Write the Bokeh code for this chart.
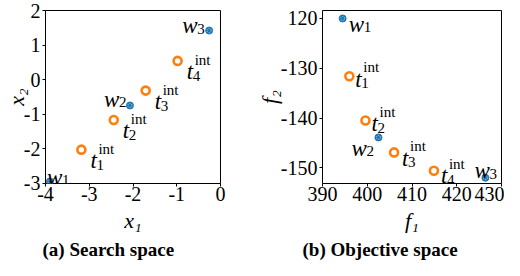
from bokeh.plotting import figure
from bokeh.models import ColumnDataSource, Range1d, FixedTicker, Title
from bokeh.layouts import row
from bokeh.core.properties import value
from bokeh.embed import file_html
from bokeh.resources import INLINE

# ---------------- data ----------------
# (a) search space
x1_w = [-3.90, -2.07, -0.26]
x2_w = [-2.95, -0.75, 1.42]
x1_t = [-3.18, -2.44, -1.71, -0.98]
x2_t = [-2.03, -1.17, -0.32, 0.54]
# (b) objective space
f1_w = [394.5, 402.5, 426.4]
f2_w = [-120.0, -143.9, -152.0]
f1_t = [396.0, 399.6, 406.0, 414.9]
f2_t = [-131.6, -140.5, -146.9, -150.6]

w_subs = ["1", "2", "3"]
t_subs = ["1", "2", "3", "4"]
t_sup = "int"

xa_ticks = [-4, -3, -2, -1, 0]
xa_labels = ["-4", "-3", "-2", "-1", "0"]
ya_ticks = [-3, -2, -1, 0, 1, 2]
ya_labels = ["-3", "-2", "-1", "0", "1", "2"]
xb_ticks = [390, 400, 410, 420, 430]
xb_labels = ["390", "400", "410", "420", "430"]
yb_ticks = [-150, -140, -130, -120]
yb_labels = ["-150", "-140", "-130", "120"]

# ---------------- styling ----------------
SERIF = "Liberation Serif"
BLUE = "#1f77b4"
ORANGE = "#ff7f0e"
TICK_FS = "20px"
LBL_FS = "23px"
SUB_FS = "15px"

# label offsets (screen px) for the main letter of each label
wa_dx = [-3, -26, -27]
wa_dy = [-4, -6, -5]
ta_dx = [9, 9, 9, 9]
ta_dy = [11, 11, 11, 11]
wb_dx = [6, -27, -11]
wb_dy = [6, 11, -7]
tb_dx = [6, 6, 8, 7]
tb_dy = [3, 3, 6, 5]

W_ADV = 15   # advance of italic w
T_ADV = 7    # advance of italic t


def style(p, xt, xl, yt, yl, xlab, ylab, ylab_standoff):
    p.xaxis.ticker = FixedTicker(ticks=xt)
    p.yaxis.ticker = FixedTicker(ticks=yt)
    p.xaxis.major_label_overrides = dict(zip(xt, xl))
    p.yaxis.major_label_overrides = dict(zip(yt, yl))
    p.xgrid.visible = False
    p.ygrid.visible = False
    p.outline_line_color = "black"
    p.outline_line_width = 1
    p.outline_line_alpha = 1
    for ax in (p.xaxis, p.yaxis):
        ax.axis_line_color = None
        ax.major_tick_in = 0
        ax.major_tick_out = 3
        ax.major_tick_line_color = "black"
        ax.minor_tick_line_color = None
        ax.major_label_text_font = SERIF
        ax.major_label_text_font_size = TICK_FS
        ax.major_label_text_color = "black"
        ax.axis_label_text_font = SERIF
        ax.axis_label_text_font_style = "italic"
        ax.axis_label_text_font_size = "22px"
        ax.axis_label_text_color = "black"
    p.xaxis.major_label_standoff = 0
    p.yaxis.major_label_standoff = 2
    p.xaxis.axis_label_standoff = 4
    p.yaxis.axis_label_standoff = ylab_standoff
    p.xaxis.axis_label = xlab
    p.yaxis.axis_label = ylab


def points(p, xw, yw, xt, yt):
    p.scatter(xw, yw, size=7, fill_color=BLUE, line_color=BLUE, line_width=1)
    p.scatter(xw, yw, size=4, fill_color=None, line_color="#a9cbe6", line_width=1, line_dash="1 1")
    p.scatter(xt, yt, size=8, fill_color="white", line_color=ORANGE, line_width=2.6)


def labels(p, xw, yw, wdx, wdy, xt, yt, tdx, tdy):
    sw = ColumnDataSource(dict(x=xw, y=yw, t=["w"] * len(xw), s=w_subs,
                               dx=wdx, dy=wdy,
                               sdx=[d + W_ADV for d in wdx], sdy=[d + 3 for d in wdy]))
    p.text("x", "y", text="t", x_offset="dx", y_offset="dy", source=sw,
           text_font=value(SERIF), text_font_style="italic", text_font_size=LBL_FS,
           text_baseline="alphabetic", text_color="black")
    p.text("x", "y", text="s", x_offset="sdx", y_offset="sdy", source=sw,
           text_font=value(SERIF), text_font_size=SUB_FS,
           text_baseline="alphabetic", text_color="black")
    st = ColumnDataSource(dict(x=xt, y=yt, t=["t"] * len(xt), s=t_subs, u=[t_sup] * len(xt),
                               dx=tdx, dy=tdy,
                               sdx=[d + T_ADV - 1 for d in tdx], sdy=[d + 4 for d in tdy],
                               udx=[d + T_ADV + 1 for d in tdx], udy=[d - 12 for d in tdy]))
    p.text("x", "y", text="t", x_offset="dx", y_offset="dy", source=st,
           text_font=value(SERIF), text_font_style="italic", text_font_size=LBL_FS,
           text_baseline="alphabetic", text_color="black")
    p.text("x", "y", text="s", x_offset="sdx", y_offset="sdy", source=st,
           text_font=value(SERIF), text_font_size=SUB_FS,
           text_baseline="alphabetic", text_color="black")
    p.text("x", "y", text="u", x_offset="udx", y_offset="udy", source=st,
           text_font=value(SERIF), text_font_size=SUB_FS,
           text_baseline="alphabetic", text_color="black")


def caption(p, text, off, standoff):
    t = Title(text=text, align="left", offset=off, text_font=SERIF, text_font_style="bold",
              text_font_size="19px", text_color="black", standoff=standoff)
    p.add_layout(t, "below")


# ---------------- (a) ----------------
pa = figure(width=252, height=260, output_backend="svg", toolbar_location=None,
            x_range=Range1d(-4, 0), y_range=Range1d(-3.01, 2.0),
            min_border_left=45, min_border_right=32, min_border_top=10, min_border_bottom=77)
style(pa, xa_ticks, xa_labels, ya_ticks, ya_labels, "x₁", "x₂", -8)
points(pa, x1_w, x2_w, x1_t, x2_t)
labels(pa, x1_w, x2_w, wa_dx, wa_dy, x1_t, x2_t, ta_dx, ta_dy)
caption(pa, "(a) Search space", -3, 2)

# ---------------- (b) ----------------
pb = figure(width=252, height=260, output_backend="svg", toolbar_location=None,
            x_range=Range1d(390, 430), y_range=Range1d(-153.15, -118.4),
            min_border_left=70, min_border_right=3, min_border_top=6, min_border_bottom=77)
style(pb, xb_ticks, xb_labels, yb_ticks, yb_labels, "f₁", "f₂", -4)
points(pb, f1_w, f2_w, f1_t, f2_t)
labels(pb, f1_w, f2_w, wb_dx, wb_dy, f1_t, f2_t, tb_dx, tb_dy)
caption(pb, "(b) Objective space", -20, 2)

layout = row(pa, pb)
open("out.html", "w").write(file_html(layout, INLINE))
